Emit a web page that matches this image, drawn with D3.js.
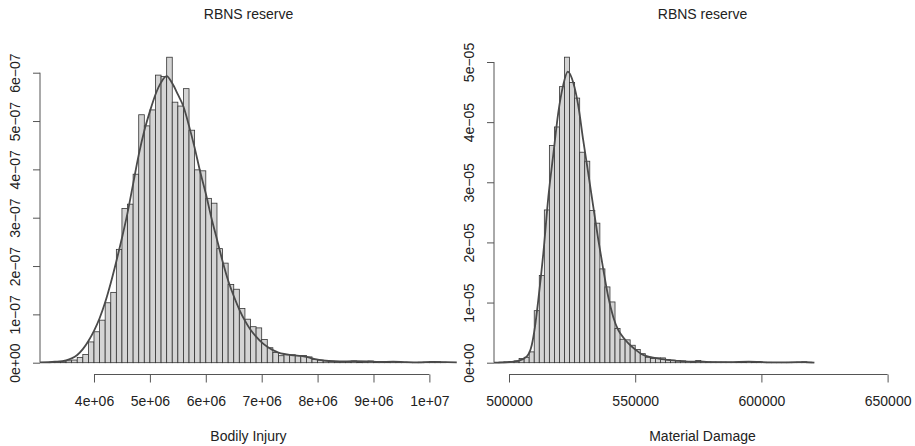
<!DOCTYPE html>
<html>
<head>
<meta charset="utf-8">
<script src="https://cdn.jsdelivr.net/npm/d3@7"></script>
<style>
  body { margin: 0; background: #fff; }
  svg { display: block; }
  text { font-family: "Liberation Sans", Arial, sans-serif; fill: #222; }
  .bar { fill: #d4d4d4; stroke: #333; stroke-width: 0.8; }
  .dens { fill: none; stroke: #4a4a4a; stroke-width: 1.8; }
  .axis path, .axis line { stroke: #555; stroke-width: 1; }
</style>
</head>
<body>
<script>
"use strict";

var width = 915;
var height = 446;

// Bodily Injury: histogram bins of 1e5, starting at 3.2e6 (density in 1e-07)
var biStart = 3200000;
var biStep = 100000;
var biDensity = [
    0.01, 0.02, 0.02, 0.04, 0.055, 0.11, 0.17, 0.43, 0.64, 0.88,
    1.24, 1.455, 2.345, 3.19, 3.28, 3.90, 5.13, 4.90, 5.23, 5.95,
    5.92, 6.32, 5.39, 5.31, 5.67, 4.81, 3.99, 3.97, 3.40, 3.30,
    2.36, 2.06, 1.62, 1.52, 1.12, 0.90, 0.745, 0.72, 0.48, 0.31,
    0.21, 0.145, 0.17, 0.165, 0.145, 0.15, 0.12, 0.07, 0.055, 0.04,
    0.03, 0.02, 0.02, 0.02, 0.035, 0.015, 0.02, 0.035, 0.015, 0.01,
    0.01, 0.025, 0.01, 0.01, 0.005, 0.005, 0.01, 0.01, 0.02, 0.02,
    0.01
];
// kernel density curve (x in 1e6, y in 1e-07)
var biCurveX = [3.03, 3.3, 3.5, 3.6, 3.7, 3.8, 3.9, 4.0, 4.1, 4.2, 4.3, 4.4, 4.5, 4.6, 4.7, 4.8,
    4.9, 5.0, 5.1, 5.2, 5.3, 5.4, 5.5, 5.6, 5.7, 5.8, 5.9, 6.0, 6.1, 6.2, 6.3, 6.4, 6.5,
    6.6, 6.7, 6.8, 6.9, 7.0, 7.1, 7.2, 7.3, 7.4, 7.5, 7.6, 7.7, 7.8, 7.9, 8.0, 8.2, 8.4,
    8.65, 8.9, 9.1, 9.35, 9.6, 9.8, 10.05, 10.3, 10.49];
var biCurveY = [0.005, 0.02, 0.05, 0.09, 0.16, 0.28, 0.45, 0.66, 0.92, 1.25, 1.65, 2.1, 2.58, 3.1, 3.7, 4.3,
    4.8, 5.2, 5.55, 5.8, 5.93, 5.78, 5.55, 5.3, 4.9, 4.45, 3.95, 3.5, 3.0, 2.55, 2.1, 1.7, 1.38,
    1.1, 0.87, 0.68, 0.54, 0.42, 0.33, 0.26, 0.21, 0.18, 0.16, 0.15, 0.14, 0.12, 0.09, 0.065, 0.035, 0.025,
    0.03, 0.025, 0.015, 0.02, 0.01, 0.008, 0.018, 0.012, 0.005];
var biTicksY = [0, 1e-7, 2e-7, 3e-7, 4e-7, 5e-7, 6e-7];
var biTicksX = [4e6, 5e6, 6e6, 7e6, 8e6, 9e6, 1e7];
var biTickLabelsX = ["4e+06", "5e+06", "6e+06", "7e+06", "8e+06", "9e+06", "1e+07"];
var biTickLabelsY = ["0e+00", "1e\u221207", "2e\u221207", "3e\u221207", "4e\u221207", "5e\u221207", "6e\u221207"];

// Material Damage: bins of 2000 starting at 494000 (density in 1e-05)
var mdStart = 494000;
var mdStep = 2000;
var mdDensity = [
    0.005, 0.01, 0.015, 0.02, 0.03, 0.07, 0.09, 0.18, 0.865, 1.45,
    2.54, 3.61, 3.92, 4.59, 5.08, 4.66, 4.40, 3.50, 3.35, 2.53,
    2.32, 1.56, 1.26, 1.01, 0.57, 0.39, 0.38, 0.29, 0.22, 0.15,
    0.09, 0.07, 0.08, 0.08, 0.05, 0.04, 0.035, 0.03, 0.02, 0.015,
    0.035, 0.02, 0.015, 0.012, 0.01, 0.01, 0.008, 0.008, 0.006, 0.01,
    0.02, 0.01, 0.008, 0.006, 0.006, 0.005, 0.005, 0.005, 0.006, 0.006,
    0.008, 0.015, 0.008
];
// x in 1000s, y in 1e-05
var mdCurveX = [494, 500, 503.7, 507, 509, 510.3, 511.6, 513.6, 515.6, 517.6, 519.5, 521.5, 523.3, 525.5,
    527.5, 529.4, 531.4, 533.4, 535.4, 537.4, 539.3, 541.3, 543.3, 545.3, 547.3, 550, 552.6, 556.6,
    560.6, 565.9, 571.1, 575, 579, 587, 595, 604, 610.7, 617.3, 621];
var mdCurveY = [0.002, 0.01, 0.03, 0.1, 0.29, 0.6, 1.04, 1.82, 2.76, 3.48, 4.15, 4.62, 4.84, 4.65,
    4.26, 3.70, 3.15, 2.59, 2.04, 1.54, 1.10, 0.76, 0.54, 0.42, 0.32, 0.22, 0.14, 0.09,
    0.06, 0.035, 0.017, 0.022, 0.011, 0.011, 0.017, 0.006, 0.006, 0.011, 0.0];
var mdTicksY = [0, 1e-5, 2e-5, 3e-5, 4e-5, 5e-5];
var mdTicksX = [500000, 550000, 600000, 650000];
var mdTickLabelsX = ["500000", "550000", "600000", "650000"];
var mdTickLabelsY = ["0e+00", "1e\u221205", "2e\u221205", "3e\u221205", "4e\u221205", "5e\u221205"];

var svg = d3.select("body").append("svg")
    .attr("width", width)
    .attr("height", height);

var panels = [
    {
        title: "RBNS reserve", xlab: "Bodily Injury",
        left: 40, right: 457, xlim: [3034000, 10494000],
        zeroY: 362.7, topTickY: 72.7, topTick: 6e-7,
        start: biStart, step: biStep, dens: biDensity, unit: 1e-7,
        curveX: biCurveX, curveY: biCurveY, curveXUnit: 1e6,
        ticksX: biTicksX, labelsX: biTickLabelsX, ticksY: biTicksY, labelsY: biTickLabelsY
    },
    {
        title: "RBNS reserve", xlab: "Material Damage",
        left: 494, right: 911, xlim: [494056, 659270],
        zeroY: 362.7, topTickY: 62, topTick: 5e-5,
        start: mdStart, step: mdStep, dens: mdDensity, unit: 1e-5,
        curveX: mdCurveX, curveY: mdCurveY, curveXUnit: 1000,
        ticksX: mdTicksX, labelsX: mdTickLabelsX, ticksY: mdTicksY, labelsY: mdTickLabelsY
    }
];

var plotTop = 56;
var plotBottom = 374.5;

panels.forEach(function(p, i) {
    var x = d3.scaleLinear().domain(p.xlim).range([p.left, p.right]);
    var y = d3.scaleLinear().domain([0, p.topTick]).range([p.zeroY, p.topTickY]);

    var clipId = "clip" + i;
    svg.append("clipPath").attr("id", clipId)
        .append("rect")
        .attr("x", p.left).attr("y", plotTop)
        .attr("width", p.right - p.left).attr("height", plotBottom - plotTop);

    var g = svg.append("g").attr("clip-path", "url(#" + clipId + ")");

    // histogram bars
    g.selectAll(".bar")
        .data(p.dens)
        .enter().append("rect")
        .attr("class", "bar")
        .attr("x", function(d, k) { return x(p.start + k * p.step); })
        .attr("width", function(d, k) { return x(p.start + (k + 1) * p.step) - x(p.start + k * p.step); })
        .attr("y", function(d) { return y(d * p.unit); })
        .attr("height", function(d) { return y(0) - y(d * p.unit); });

    // density curve
    var pts = p.curveX.map(function(v, k) { return [v * p.curveXUnit, p.curveY[k] * p.unit]; });
    g.append("path")
        .datum(pts)
        .attr("class", "dens")
        .attr("d", d3.line()
            .x(function(d) { return x(d[0]); })
            .y(function(d) { return y(d[1]); })
            .curve(d3.curveMonotoneX));

    // x axis
    var xAxis = d3.axisBottom(x)
        .tickValues(p.ticksX)
        .tickFormat(function(d, k) { return p.labelsX[k]; })
        .tickSizeOuter(0)
        .tickSize(8)
        .tickPadding(14);
    var gx = svg.append("g")
        .attr("class", "axis")
        .attr("transform", "translate(0," + plotBottom + ")")
        .call(xAxis);
    gx.select(".domain").attr("d", "M" + x(p.ticksX[0]) + ",0H" + x(p.ticksX[p.ticksX.length - 1]));
    gx.selectAll("text").attr("font-size", 14).attr("fill", "#222")
        .style("font-family", "'Liberation Sans', Arial, sans-serif");

    // y axis
    var yAxis = d3.axisLeft(y)
        .tickValues(p.ticksY)
        .tickFormat(function(d, k) { return p.labelsY[k]; })
        .tickSizeOuter(0)
        .tickSize(7);
    var gy = svg.append("g")
        .attr("class", "axis")
        .attr("transform", "translate(" + p.left + ",0)")
        .call(yAxis);
    gy.select(".domain").attr("d", "M0," + y(0) + "V" + y(p.topTick));
    gy.selectAll("text")
        .attr("font-size", 14).attr("fill", "#222")
        .style("font-family", "'Liberation Sans', Arial, sans-serif")
        .attr("x", null).attr("dy", null)
        .attr("text-anchor", "middle")
        .attr("transform", "translate(-20,0) rotate(-90)");

    var cx = (p.left + p.right) / 2;
    svg.append("text")
        .attr("x", cx).attr("y", 19)
        .attr("text-anchor", "middle")
        .attr("font-size", 14)
        .text(p.title);

    svg.append("text")
        .attr("x", cx).attr("y", 440.5)
        .attr("text-anchor", "middle")
        .attr("font-size", 14)
        .text(p.xlab);
});
</script>
</body>
</html>
